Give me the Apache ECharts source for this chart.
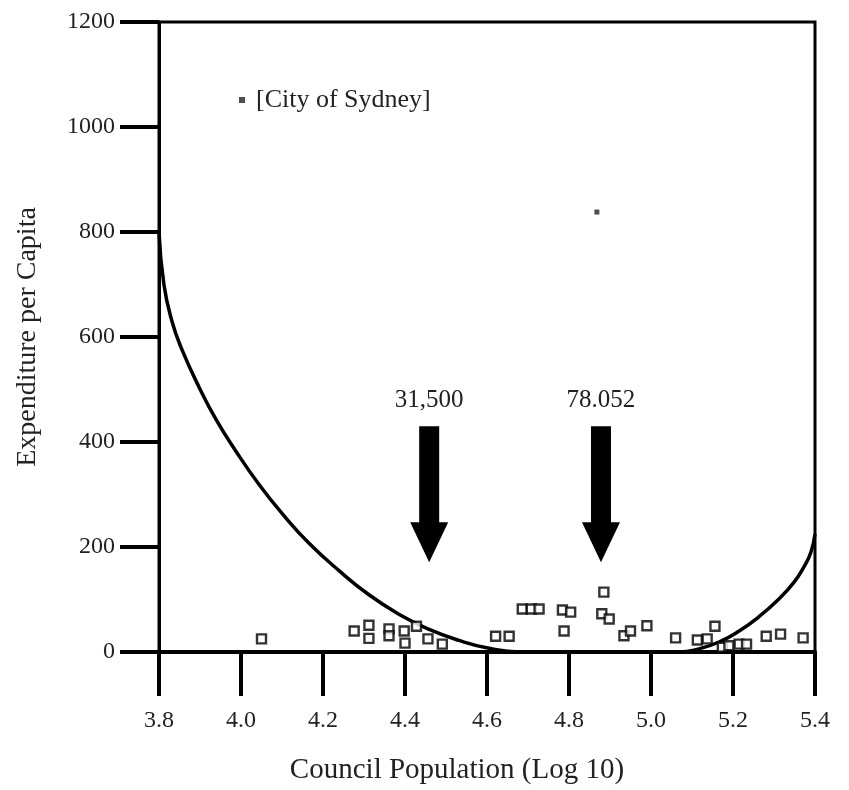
<!DOCTYPE html>
<html><head><meta charset="utf-8">
<script src="https://cdn.jsdelivr.net/npm/echarts@6/dist/echarts.min.js"></script>
<style>html,body{margin:0;padding:0;background:#fff}#c{width:849px;height:790px}</style>
</head><body><div id="c"></div>
<script>
// Council data points (log10 population, expenditure per capita)
const councilLogPop = [4.05, 4.276, 4.312, 4.312, 4.361, 4.361, 4.398, 4.40, 4.428, 4.456, 4.491, 4.621, 4.654, 4.686, 4.708, 4.727, 4.784, 4.804, 4.788, 4.885, 4.88, 4.898, 4.934, 4.95, 4.99, 5.06, 5.113, 5.137, 5.156, 5.174, 5.19, 5.215, 5.233, 5.281, 5.316, 5.371];
const councilExpenditure = [25, 40, 51, 26, 44, 31, 40, 17, 49, 25, 15, 30, 30, 82, 82, 82, 80, 76, 40, 114, 73, 63, 31, 40, 50, 27, 23, 25, 49, 9, 12, 15, 15, 30, 34, 27];
// City of Sydney point
const sydneyLogPop = [4.868];
const sydneyExpenditure = [838];
// Fitted U-shaped curve
const curveLogPop = [3.800, 3.812, 3.832, 3.856, 3.898, 3.939, 3.988, 4.044, 4.100, 4.166, 4.239, 4.312, 4.385, 4.459, 4.532, 4.605, 4.678, 4.85, 5.00, 5.068, 5.117, 5.166, 5.215, 5.263, 5.312, 5.349, 5.373, 5.390, 5.400];
const curveExpenditure = [800, 700, 629, 576, 504, 443, 382, 319, 264, 207, 155, 109, 72, 43, 22, 7, 0, 0, 0, 0, 6, 19, 40, 67, 101, 133, 162, 190, 225];
// Annotation arrows
const arrowLogPop = [4.459, 4.878];
const arrowLabels = ['31,500', '78.052'];
const arrowTopValue = 430, arrowHeadValue = 247, arrowTipValue = 171, arrowLabelValue = 480;

const FONT = 'Liberation Serif';
const chart = echarts.init(document.getElementById('c'), null, {renderer: 'canvas'});
chart.setOption({
  animation: false,
  backgroundColor: '#fff',
  grid: {left: 159, right: 34, top: 22, bottom: 137, show: true, borderColor: '#000', borderWidth: 3},
  legend: {
    data: ['[City of Sydney]'], left: 234, top: 82, icon: 'rect', itemWidth: 6, itemHeight: 6,
    textStyle: {fontFamily: FONT, fontSize: 26, color: '#222', padding: [0, 0, 0, 6]}
  },
  xAxis: {
    type: 'value', min: 3.8, max: 5.4, interval: 0.2,
    axisLine: {lineStyle: {color: '#000', width: 4}},
    axisTick: {length: 44, lineStyle: {color: '#000', width: 4}},
    axisLabel: {margin: 57, fontFamily: FONT, fontSize: 24, color: '#222', formatter: v => v.toFixed(1)},
    splitLine: {show: false},
    name: 'Council Population (Log 10)', nameLocation: 'middle', nameGap: 104,
    nameTextStyle: {fontFamily: FONT, fontSize: 29, color: '#222', padding: [0, 60, 0, 0]}
  },
  yAxis: {
    type: 'value', min: 0, max: 1200, interval: 200,
    axisLine: {lineStyle: {color: '#000', width: 3}},
    axisTick: {length: 39, lineStyle: {color: '#000', width: 4}},
    axisLabel: {margin: 44, fontFamily: FONT, fontSize: 24, color: '#222', formatter: v => String(v)},
    splitLine: {show: false},
    name: 'Expenditure per Capita', nameLocation: 'middle', nameRotate: 90, nameGap: 117,
    nameTextStyle: {fontFamily: FONT, fontSize: 28, color: '#222'}
  },
  series: [
    {
      type: 'line', name: 'curve', showSymbol: false, smooth: 0.5, clip: true,
      lineStyle: {color: '#000', width: 3.5},
      data: curveLogPop.map((x, i) => [x, curveExpenditure[i]]),
      z: 3
    },
    {
      type: 'scatter', name: 'Councils', symbol: 'rect', symbolSize: 9,
      itemStyle: {color: '#fff', borderColor: '#000', borderWidth: 2.4},
      data: councilLogPop.map((x, i) => [x, councilExpenditure[i]]),
      z: 4
    },
    {
      type: 'scatter', name: '[City of Sydney]', symbol: 'rect', symbolSize: 5,
      itemStyle: {color: '#222'},
      data: sydneyLogPop.map((x, i) => [x, sydneyExpenditure[i]]),
      z: 4
    },
    {
      type: 'custom', name: 'arrows',
      data: arrowLogPop.map(x => [x, arrowTopValue, arrowHeadValue, arrowTipValue, arrowLabelValue]),
      renderItem: function (params, api) {
        const x = api.value(0);
        const top = api.coord([x, api.value(1)]);
        const head = api.coord([x, api.value(2)]);
        const tip = api.coord([x, api.value(3)]);
        const lab = api.coord([x, api.value(4)]);
        return {
          type: 'group', children: [
            {type: 'rect', shape: {x: top[0] - 10, y: top[1], width: 20, height: head[1] - top[1] + 1}, style: {fill: '#000'}},
            {type: 'polygon', shape: {points: [[head[0] - 19, head[1]], [head[0] + 19, head[1]], [tip[0], tip[1]]]}, style: {fill: '#000'}},
            {type: 'text', x: lab[0], y: lab[1], style: {text: arrowLabels[params.dataIndex], fontFamily: FONT, fontSize: 25, fill: '#222', align: 'center', verticalAlign: 'middle'}}
          ]
        };
      },
      z: 5
    }
  ]
});
</script>
</body></html>
